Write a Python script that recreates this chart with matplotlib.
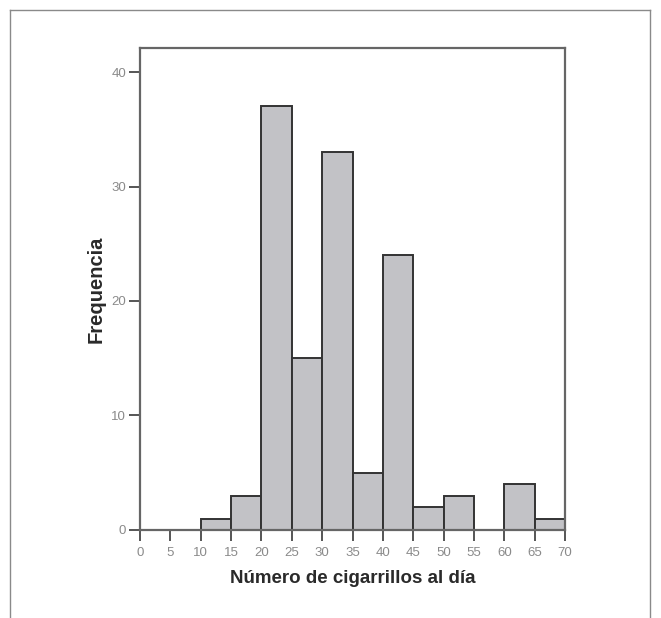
import matplotlib
matplotlib.use('Agg')
import matplotlib.pyplot as plt
from matplotlib.lines import Line2D
import numpy as np

# Histogram data: bin edges (cigarettes per day) and frequency per bin
bin_edges = [0, 5, 10, 15, 20, 25, 30, 35, 40, 45, 50, 55, 60, 65, 70]
frequencies = [0, 0, 1, 3, 37, 15, 33, 5, 24, 2, 3, 0, 4, 1]
y_ticks = [0, 10, 20, 30, 40]
x_label = 'Número de cigarrillos al día'
y_label = 'Frequencia'

plt.rcParams['font.family'] = ['Liberation Sans', 'DejaVu Sans']

fig = plt.figure(figsize=(6.61, 6.18), dpi=100)
ax = fig.add_axes([0.2118, 0.1424, 0.643, 0.780])

# bars from the bin edges
lefts = np.array(bin_edges[:-1])
widths = np.diff(bin_edges)
ax.bar(lefts, frequencies, width=widths, align='edge',
       color='#c2c2c6', edgecolor='#333333', linewidth=1.4)

ax.set_xlim(bin_edges[0], bin_edges[-1])
ax.set_ylim(0, 42.1)
ax.set_xticks(bin_edges)
ax.set_yticks(y_ticks)

for s in ax.spines.values():
    s.set_color('#666666')
    s.set_linewidth(1.6)

ax.tick_params(axis='both', direction='out', length=8, width=1.4,
               color='#555555', labelcolor='#8a8a8a', labelsize=9.5)
ax.tick_params(axis='x', pad=4)
ax.tick_params(axis='y', pad=2)

ax.set_xlabel(x_label, fontsize=13.5, fontweight='bold', color='#2a2a2a', labelpad=8)
ax.set_ylabel(y_label, fontsize=14.5, fontweight='bold', color='#2a2a2a', labelpad=4)

# outer frame around the figure (no bottom edge)
fx0, fx1, fy1 = 10 / 661, 650 / 661, 1 - 10 / 618
frame_kw = dict(color='#8a8a8a', linewidth=1.0, transform=fig.transFigure)
fig.lines.append(Line2D([fx0, fx0], [0, fy1], **frame_kw))
fig.lines.append(Line2D([fx0, fx1], [fy1, fy1], **frame_kw))
fig.lines.append(Line2D([fx1, fx1], [0, fy1], **frame_kw))

plt.savefig('out.png', dpi=100)
